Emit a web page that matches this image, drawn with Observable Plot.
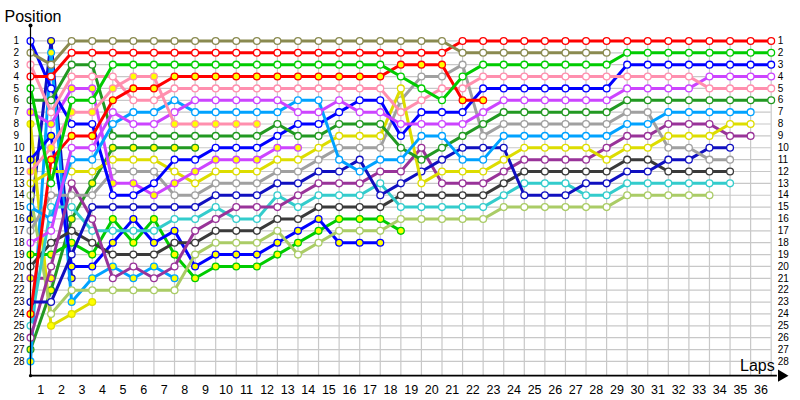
<!DOCTYPE html>
<html><head><meta charset="utf-8">
<script src="https://cdn.jsdelivr.net/npm/d3@7"></script>
<script src="https://cdn.jsdelivr.net/npm/@observablehq/plot@0.6"></script>
<style>body{margin:0;background:#fff}#chart svg{display:block}</style>
</head><body><div id="chart"></div>
<script>
// tick labels
const positionLabels = [1,2,3,4,5,6,7,8,9,10,11,12,13,14,15,16,17,18,19,20,21,22,23,24,25,26,27,28];
const lapLabels = [1,2,3,4,5,6,7,8,9,10,11,12,13,14,15,16,17,18,19,20,21,22,23,24,25,26,27,28,29,30,31,32,33,34,35,36];

// driver names (line colour / marker fill)
const driverNames = ["olive","red","green","redY","pink","pinkY","purple","ltblue","dkgreen","blue","purpleY","yellow","gray","navy","dkmag","teal","black","ltgreen","blueY","greenY","ltblueY","yellowY","navyY","dkmagY","dkgreenY"];
const lineColors = ["#8a8a50","#ff0000","#00cc00","#ff0000","#ff8fae","#ff8fae","#cc44ff","#00a2ff","#229922","#0000ff","#cc44ff","#dddd00","#a0a0a0","#1010c0","#993399","#33cccc","#3a3a3a","#aacc66","#0000ff","#00cc00","#00a2ff","#dddd00","#1010c0","#993399","#229922"];
const markerFills = ["#fff","#fff","#fff","#ffff00","#fff","#ffff00","#fff","#fff","#fff","#fff","#ffff00","#fff","#fff","#fff","#fff","#fff","#fff","#fff","#ffff00","#ffff00","#ffff00","#ffff00","#ffff00","#ffff00","#ffff00"];

// positions after each lap (index 0 = start)
const olive   = [2,3,1,1,1,1,1,1,1,1,1,1,1,1,1,1,1,1,1,1,1,2,2,2,2,2,2,2,2];
const red     = [4,4,2,2,2,2,2,2,2,2,2,2,2,2,2,2,2,2,2,2,2,1,1,1,1,1,1,1,1,1,1,1,1,1,1,1,1];
const green   = [5,13,6,6,3,3,3,3,3,3,3,3,3,3,3,3,3,3,4,5,6,4,3,3,3,3,3,3,3,2,2,2,2,2,2,2,2];
const redY    = [24,11,9,9,6,5,5,4,4,4,4,4,4,4,4,4,4,4,3,3,3,6,6];
const pink    = [3,7,4,4,4,6,6,5,5,5,5,5,5,5,5,5,5,5,7,6,5,5,4,4,4,4,4,4,4,4,4,4,4,5,5,5,5];
const pinkY   = [12,10,7,7,5,4,4,8,8,8,8,8];
const purple  = [18,17,10,10,7,8,8,7,6,6,6,6,6,7,7,6,7,7,8,8,8,8,7,6,6,6,6,6,6,5,5,5,5,4,4,4,4];
const ltblue  = [15,16,11,11,8,7,7,6,7,7,7,7,7,6,6,11,12,11,11,9,9,11,11,9,9,9,9,9,9,8,8,7,7,7,7,7];
const dkgreen = [6,6,3,3,9,9,9,9,9,9,9,9,8,9,9,8,8,8,10,11,10,9,8,7,7,7,7,7,7,6,6,6,6,6,6,6,6];
const blue    = [1,5,8,8,14,14,13,11,11,10,10,10,9,8,8,7,6,6,9,7,7,7,5,5,5,5,5,5,5,3,3,3,3,3,3,3,3];
const purpleY = [7,8,5,5,13,13,14,13,12,11,11,11,10,10];
const yellow  = [13,12,12,12,11,11,11,12,13,12,12,12,11,11,10,9,9,9,5,13,12,12,12,11,10,10,10,10,11,10,10,9,9,9,8,8];
const gray    = [17,14,14,14,12,12,12,14,14,13,13,13,12,12,11,10,10,10,6,4,4,3,9,8,8,8,8,8,8,7,7,10,10,11,11];
const navy    = [23,23,19,15,15,15,15,15,15,14,14,14,13,13,12,12,11,14,13,12,11,10,10,10,14,14,14,13,13,12,12,11,11,10,10];
const dkmag   = [26,20,13,16,21,20,21,20,17,16,15,15,15,14,13,13,13,12,12,10,13,13,13,12,11,11,11,11,10,9,9,8,8,8,9,9];
const teal    = [25,15,15,17,17,17,17,16,16,15,16,16,14,15,14,14,14,13,15,15,15,15,15,14,13,13,13,14,14,13,13,13,13,13,13];
const black   = [20,18,17,18,19,19,19,18,18,17,17,17,16,16,15,15,15,15,14,14,14,14,14,13,12,12,12,12,12,11,11,12,12,12,12];
const ltgreen = [14,24,22,22,22,22,22,22,19,18,18,18,17,19,18,17,17,17,16,16,16,16,16,15,15,15,15,15,15,14,14,14,14,14];
const blueY   = [11,9,20,20,18,16,18,17,20,19,19,19,18,17,16,18,18,18];
const greenY  = [19,19,18,19,16,18,16,19,21,20,20,20,19,18,17,16,16,16,17];
const ltblueY = [28,2,23,21,20,21,20,21];
const yellowY = [8,25,24,23];
const navyY   = [16,1,21];
const dkmagY  = [21,21];
const dkgreenY= [27,22,16,13,10,10,10,10,10];

const series = [olive,red,green,redY,pink,pinkY,purple,ltblue,dkgreen,blue,purpleY,yellow,gray,navy,dkmag,teal,black,ltgreen,blueY,greenY,ltblueY,yellowY,navyY,dkmagY,dkgreenY];

const font = "Liberation Sans, Arial, sans-serif";
const marks = [];
// grid
marks.push(Plot.ruleX(lapLabels, {y1: 1, y2: 29.2, stroke: "#c8c8c8", strokeWidth: 1.2}));
marks.push(Plot.ruleY(positionLabels, {x1: 0, x2: 36, stroke: "#c8c8c8", strokeWidth: 1.2}));
// series: draw from last to first so leaders sit on top
for (let i = series.length - 1; i >= 0; i--) {
  const rows = series[i].map((p, lap) => ({lap, pos: p}));
  marks.push(Plot.line(rows, {x: "lap", y: "pos", stroke: lineColors[i], strokeWidth: 3, curve: "linear"}));
  marks.push(Plot.dot(rows, {x: "lap", y: "pos", r: 3.4, fill: markerFills[i], stroke: lineColors[i], strokeWidth: 1.3}));
}
// axes lines
marks.push(Plot.ruleX([0], {y1: -0.3, y2: 29.2, stroke: "#000", strokeWidth: 1.2}));
marks.push(Plot.ruleY([29.2], {x1: 0, x2: 36.3, stroke: "#000", strokeWidth: 1.6}));
marks.push(Plot.dot([0], {x: 0, y: -0.3, r: 2, fill: "#000"}));
marks.push(Plot.dot([0], {x: 0, y: 29.2, r: 1.6, fill: "#000"}));
marks.push(Plot.dot([0], {x: 36.5, y: 29.2, symbol: "triangle", r: 4.5, rotate: 90, fill: "#000"}));
// tick labels
marks.push(Plot.text(positionLabels, {x: 0, y: d => d, text: d => String(d), textAnchor: "start", dx: -17, fontSize: 10, fill: "#000", fontFamily: font}));
marks.push(Plot.text(positionLabels, {x: 36, y: d => d, text: d => String(d), textAnchor: "start", dx: 6.5, fontSize: 10, fill: "#000", fontFamily: font}));
marks.push(Plot.text(lapLabels, {x: d => d - 0.5, y: 29.2, text: d => String(d), dy: 14, fontSize: 12.5, fill: "#000", fontFamily: font}));
// titles
marks.push(Plot.text(["Position"], {frameAnchor: "top-left", dx: -26, dy: -4, lineAnchor: "bottom", textAnchor: "start", fontSize: 16, fill: "#000", fontFamily: font}));
marks.push(Plot.text(["Laps"], {x: 36, y: 29.2, dx: 3.5, dy: -5, lineAnchor: "bottom", textAnchor: "end", fontSize: 16, fill: "#000", fontFamily: font}));

const chart = Plot.plot({
  width: 800, height: 400,
  marginLeft: 30, marginRight: 29.3, marginTop: 25, marginBottom: 24.85,
  x: {domain: [0, 36], axis: null},
  y: {domain: [-0.3, 29.2], reverse: true, axis: null},
  style: {background: "#fff", fontFamily: font},
  marks
});
document.getElementById("chart").appendChild(chart);
</script></body></html>
